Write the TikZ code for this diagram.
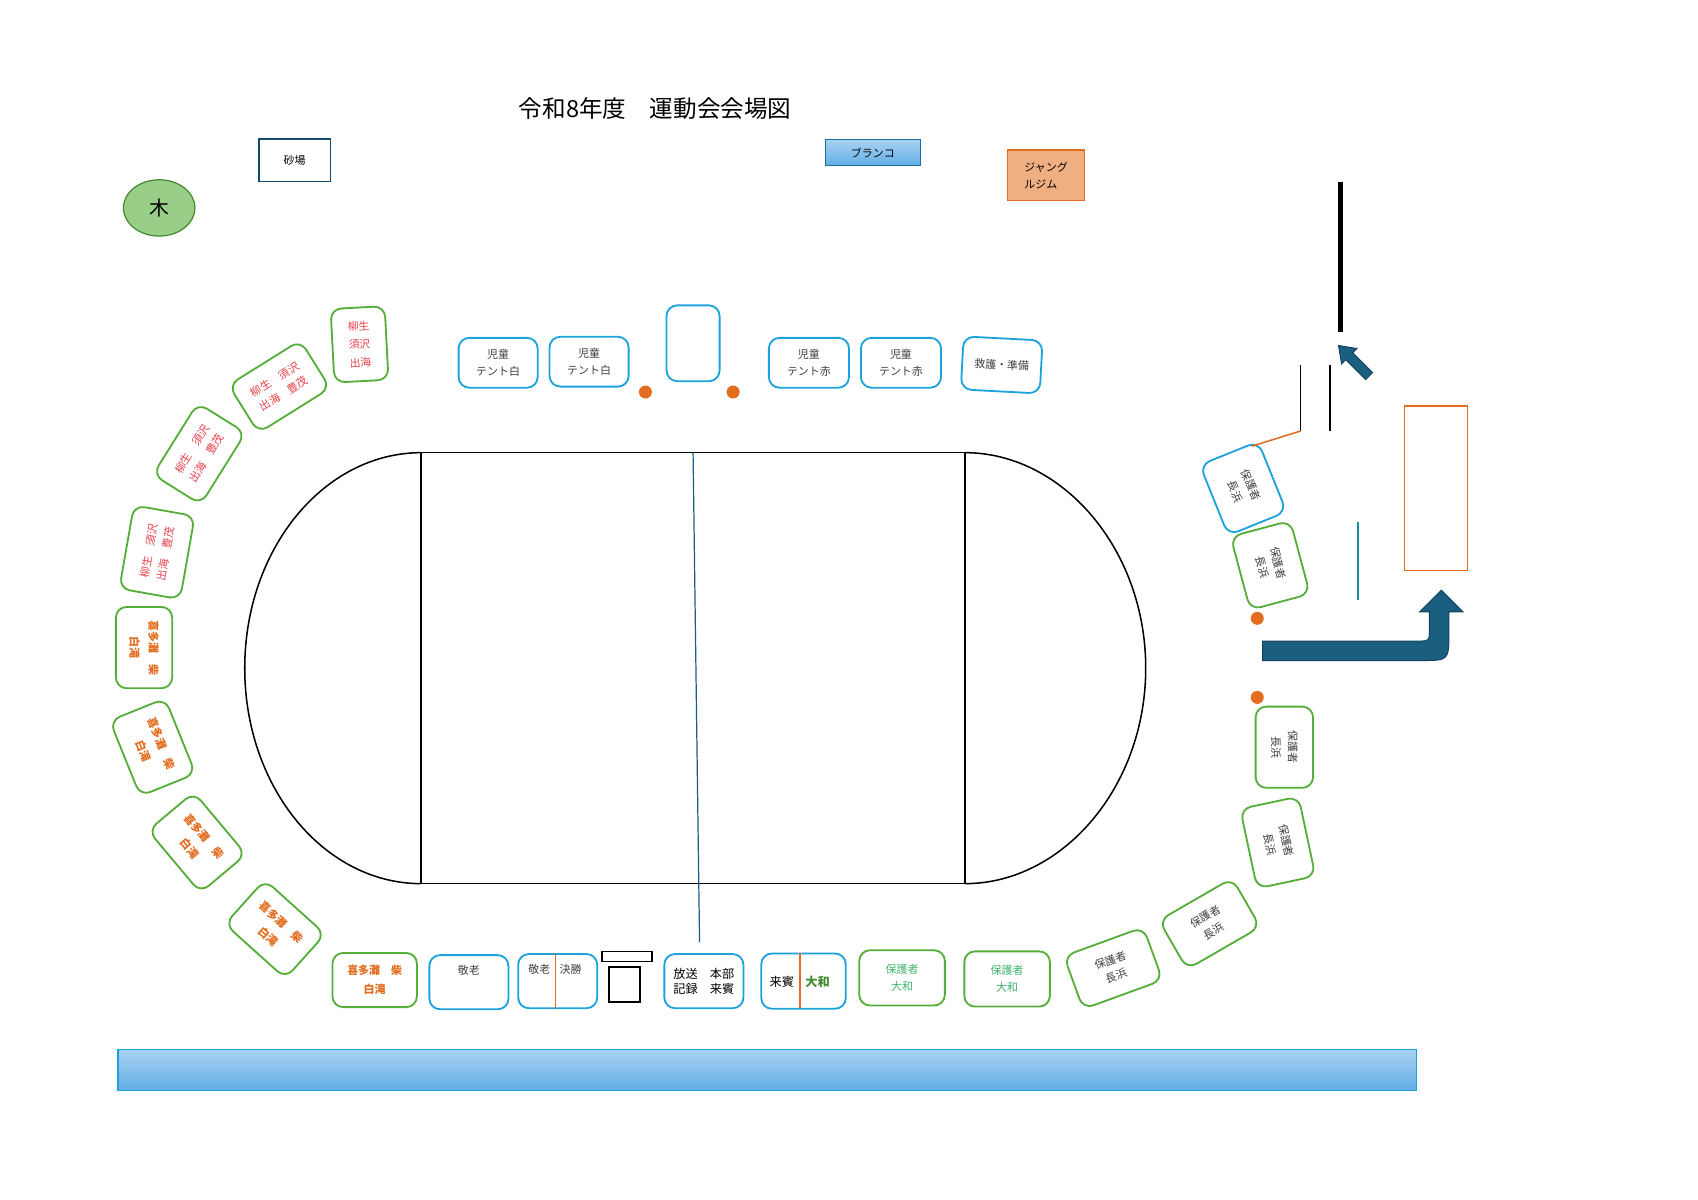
\documentclass[tikz,border=0pt]{standalone}
\usepackage{fontspec}
\setmainfont{Noto Sans CJK JP}
\usetikzlibrary{shapes.geometric}
\definecolor{tgreen}{HTML}{55AD3A}
\definecolor{tblue}{HTML}{1CA3DE}
\definecolor{tred}{HTML}{E8414A}
\definecolor{torange}{HTML}{E36C1E}
\definecolor{tgray}{HTML}{404040}
\definecolor{tlgreen}{HTML}{3DB36A}
\definecolor{arrowc}{HTML}{1A5E80}
\definecolor{pooltop}{HTML}{A8D2F2}
\definecolor{poolbot}{HTML}{62AEE6}
\begin{document}
\begin{tikzpicture}[x=0.25mm,y=-0.25mm,
  tent/.style={draw, line width=1.2pt, rounded corners=7pt, align=center, inner sep=0pt,
     font=\fontsize{7.2}{11}\selectfont, text=tgray},
  gt/.style={tent, draw=tgreen},
  bt/.style={tent, draw=tblue},
  redt/.style={text=tred},
  oranget/.style={text=torange, font=\fontsize{7.2}{12.5}\selectfont\bfseries},
  sz/.style 2 args={minimum width=#1*0.25mm, minimum height=#2*0.25mm},
  dot/.style={circle, fill=torange, minimum size=12*0.25mm, inner sep=0pt}]
\useasboundingbox (0,0) rectangle (1568,1108);
\fill[white] (0,0) rectangle (1568,1108);

\node[font=\fontsize{15.5}{18}\selectfont] (title) at (605,100) {令和8年度　運動会会場図};
\node[draw=arrowc!80!black, line width=1pt, sz={66}{39}, font=\fontsize{7.2}{9}\selectfont] (suna) at (272,148) {砂場};
\node[ellipse, draw=tgreen!80!black, fill=tgreen!60!white, line width=0.8pt, minimum width=66*0.25mm, minimum height=52*0.25mm, font=\fontsize{13}{15}\selectfont] (ki) at (147,192) {木};
\node[draw=tblue!70!black, top color=pooltop, bottom color=poolbot, sz={88}{24}, font=\fontsize{7.2}{9}\selectfont] (buranko) at (806,141) {ブランコ};
\node[draw=torange, fill=torange!55!white, line width=0.8pt, sz={71}{47}, align=left, font=\fontsize{7.2}{11.5}\selectfont] (jungle) at (966,162) {ジャング\\ルジム};

% top row
\node[bt, sz={73}{46}] (c1) at (460,335) {児童\\テント白};
\node[bt, sz={73}{46}] (c2) at (544,334) {児童\\テント白};
\node[bt, sz={49}{70}] (c3) at (640,317) {};
\node[bt, sz={74}{46}] (c4) at (747,335) {児童\\テント赤};
\node[bt, sz={74}{46}] (c5) at (832,335) {児童\\テント赤};
\node[bt, sz={73}{49}, rotate=-3] (c6) at (925,337) {救護・準備};
\node[dot] (d1) at (596,362) {};
\node[dot] (d2) at (677,362) {};

% track
\draw[line width=1pt] (389,418) -- (891,418) (389,816) -- (891,816) (389,418) -- (389,816) (891,418) -- (891,816);
\draw[line width=1pt] (389,418) .. controls (299,418) and (226,507) .. (226,617) .. controls (226,727) and (299,816) .. (389,816);
\draw[line width=1pt] (891,418) .. controls (981,418) and (1058,507) .. (1058,617) .. controls (1058,727) and (981,816) .. (891,816);
\coordinate (mtop) at (640,418);
\coordinate (mbot) at (646,870);
\draw[arrowc, line width=0.8pt] (mtop) -- (mbot);

% left tents
\node[gt, redt, sz={50}{68}, rotate=3, font=\fontsize{7}{12}\selectfont] (l1) at (332,318) {柳生\\須沢\\出海};
\node[gt, redt, sz={78}{52}, rotate=32] (l2) at (258,357) {柳生　須沢\\出海　豊茂};
\node[gt, redt, sz={78}{52}, rotate=58] (l3) at (184,419) {柳生　須沢\\出海　豊茂};
\node[gt, redt, sz={78}{57}, rotate=80] (l4) at (145,510) {柳生　須沢\\出海　豊茂};
\node[gt, oranget, sz={75}{52}, rotate=-90] (l5) at (133,598) {喜多灘　柴\\白滝};
\node[gt, oranget, sz={75}{55}, rotate=-68] (l6) at (141,690) {喜多灘　柴\\白滝};
\node[gt, oranget, sz={75}{55}, rotate=-50] (l7) at (182,778) {喜多灘　柴\\白滝};
\node[gt, oranget, sz={75}{55}, rotate=-42] (l8) at (254,858) {喜多灘　柴\\白滝};
\node[gt, oranget, sz={78}{50}] (l9) at (346,905) {喜多灘　柴\\白滝};

% bottom row
\node[bt, sz={73}{50}] (k1) at (433,907) {};
\node[font=\fontsize{7.2}{9}\selectfont, text=tgray] at (433,896) {敬老};
\node[bt, sz={73}{50}] (k2) at (515,906) {};
\draw[torange, line width=1.2pt] (k2.north) ++(-2,0) coordinate (k2a) -- (k2a |- k2.south);
\node[font=\fontsize{7.2}{9}\selectfont, text=tgray] at (498,895) {敬老};
\node[font=\fontsize{7.2}{9}\selectfont, text=tgray] at (527,895) {決勝};
\node[draw, line width=0.8pt, sz={46}{5}] (bar) at (579,883.5) {};
\node[draw, line width=1.2pt, sz={29}{32}] (sq) at (576.5,909) {};
\node[bt, sz={73}{50}, text=black, font=\fontsize{8}{10}\selectfont] (hq) at (650,906) {放送　本部\\記録　来賓};
\node[bt, sz={78}{51}] (rk) at (742,906) {};
\draw[torange, line width=1.2pt] (739,880) coordinate (rka) -- (739,931) coordinate (rkb);
\node[font=\fontsize{8}{10}\selectfont] at (722,907) {来賓};
\node[font=\fontsize{8}{10}\selectfont\bfseries, text=tgreen!80!black] at (755,907) {大和};
\node[gt, sz={79}{51}, text=tlgreen] (y1) at (833,903) {保護者\\大和};
\node[gt, sz={79}{51}, text=tlgreen] (y2) at (930,904) {保護者\\大和};

% right tents
\node[gt, sz={78}{52}, rotate=20] (r1) at (1028,894) {保護者\\長浜};
\node[gt, sz={78}{52}, rotate=30] (r2) at (1117,853) {保護者\\長浜};
\node[gt, sz={75}{55}, rotate=-78] (r3) at (1180,778) {保護者\\長浜};
\node[gt, sz={75}{53}, rotate=-90] (r4) at (1186,690) {保護者\\長浜};
\node[dot] (d3) at (1161,644) {};
\node[dot] (d4) at (1161,571) {};
\node[gt, sz={70}{57}, rotate=-75] (r5) at (1173,522) {保護者\\長浜};
\node[bt, sz={70}{58}, rotate=-68] (r6) at (1148,451) {保護者\\長浜};

% gate area
\draw[line width=3pt] (1238,168) -- (1238,307);
\draw[line width=1pt] (1228,337) -- (1228,398);
\draw[line width=1pt] (1201,337) -- (1201,398) coordinate (g1);
\coordinate (g2) at (1156,412);
\draw[torange, line width=1pt] (g1) -- (g2);
\draw[arrowc!70!cyan, line width=1pt] (1254,482) -- (1254,554);
\node[draw=torange, line width=0.8pt, sz={58}{152}] (orect) at (1326,451) {};
\fill[arrowc, draw=arrowc!70!black, line width=0.6pt] (1236,319) -- (1253,321.8) -- (1249.1,325.7) -- (1267.5,344.1) -- (1261.1,350.5) -- (1242.7,332.1) -- (1238.8,336) -- cycle;
\fill[arrowc, draw=arrowc!70!black, line width=0.6pt] (1166,592) -- (1308,592) .. controls (1320,592) .. (1320,580) -- (1320,565) -- (1311,565) -- (1331,545) -- (1351,565) -- (1338,565) -- (1338,584) .. controls (1338,610) .. (1312,610) -- (1166,610) -- cycle;

% bottom bar
\node[draw=tblue, line width=0.8pt, top color=pooltop, bottom color=poolbot, sz={1199}{38}] (pool) at (708.5,988) {};
\end{tikzpicture}
\end{document}
